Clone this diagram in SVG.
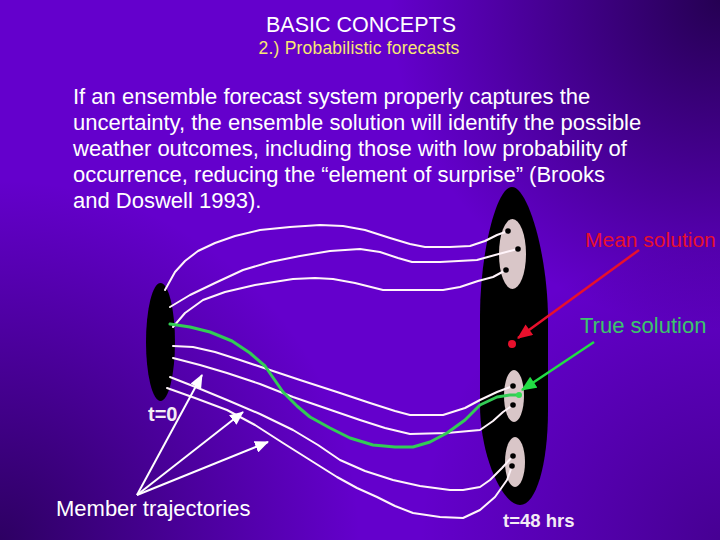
<svg xmlns="http://www.w3.org/2000/svg" width="720" height="540" viewBox="0 0 720 540">
  <defs>
    <radialGradient id="tr" cx="720" cy="0" r="330" gradientUnits="userSpaceOnUse">
      <stop offset="0" stop-color="#10002a" stop-opacity="0.75"/>
      <stop offset="1" stop-color="#10002a" stop-opacity="0"/>
    </radialGradient>
    <radialGradient id="bl" cx="0" cy="540" r="360" gradientUnits="userSpaceOnUse">
      <stop offset="0" stop-color="#10002a" stop-opacity="0.65"/>
      <stop offset="1" stop-color="#10002a" stop-opacity="0"/>
    </radialGradient>
    <radialGradient id="br" cx="720" cy="540" r="300" gradientUnits="userSpaceOnUse">
      <stop offset="0" stop-color="#10002a" stop-opacity="0.35"/>
      <stop offset="1" stop-color="#10002a" stop-opacity="0"/>
    </radialGradient>
    <marker id="aw" viewBox="0 0 14 12" refX="13" refY="6" markerWidth="14" markerHeight="12" markerUnits="userSpaceOnUse" orient="auto">
      <path d="M0,0 L14,6 L0,12 Z" fill="#ffffff"/>
    </marker>
    <marker id="ar" viewBox="0 0 14 12" refX="13" refY="6" markerWidth="16" markerHeight="13" markerUnits="userSpaceOnUse" orient="auto">
      <path d="M0,0 L14,6 L0,12 Z" fill="#e8102c"/>
    </marker>
    <marker id="ag" viewBox="0 0 14 12" refX="13" refY="6" markerWidth="16" markerHeight="13" markerUnits="userSpaceOnUse" orient="auto">
      <path d="M0,0 L14,6 L0,12 Z" fill="#22dd44"/>
    </marker>
  </defs>
  <style>
    text { font-family: "Liberation Sans", Arial, sans-serif; }
    .para { fill: #ffffff; font-size: 22px; }
    .traj { fill: none; stroke: #fff4fa; stroke-width: 2; stroke-linejoin: round; stroke-linecap: round; }
    .green { fill: none; stroke: #33cc55; stroke-width: 3; stroke-linejoin: round; stroke-linecap: round; }
    .dot { fill: #000000; }
    .cluster { fill: #d9c6c8; }
    .lbl { font-size: 22px; }
    .time { fill: #f4ecf4; font-weight: bold; }
  </style>

  <rect width="720" height="540" fill="#6400cc"/>
  <rect width="720" height="540" fill="url(#tr)"/>
  <rect width="720" height="540" fill="url(#bl)"/>
  <rect width="720" height="540" fill="url(#br)"/>

  <g id="title">
    <text x="361" y="32" text-anchor="middle" fill="#ffffff" font-size="21.5">BASIC CONCEPTS</text>
    <text x="359" y="54" text-anchor="middle" fill="#f8e872" font-size="17.5" letter-spacing="0.2">2.) Probabilistic forecasts</text>
  </g>

  <g id="paragraph" class="para">
    <text x="73" y="104">If an ensemble forecast system properly captures the</text>
    <text x="73" y="130">uncertainty, the ensemble solution will identify the possible</text>
    <text x="73" y="156">weather outcomes, including those with low probability of</text>
    <text x="73" y="182">occurrence, reducing the “element of surprise” (Brooks</text>
    <text x="73" y="208">and Doswell 1993).</text>
  </g>

  <g id="initial-state">
    <ellipse cx="160.5" cy="342" rx="14.5" ry="59" fill="#000000"/>
  </g>

  <g id="forecast-state">
    <path d="M512,187 C528,187 548,255 548,320 L548,410 C548,465 536,505 520,505 C502,505 480,455 480,405 L480,315 C480,255 496,187 512,187 Z" fill="#000000"/>
    <ellipse class="cluster" cx="512.5" cy="254" rx="13.5" ry="35"/>
    <ellipse class="cluster" cx="514" cy="396" rx="10" ry="26"/>
    <ellipse class="cluster" cx="515" cy="462" rx="10" ry="25"/>
  </g>

  <g id="connectors">
    <polyline class="traj" points="165,290 175,272 185,261 198,251 215,243 235,236 260,230 290,227 320,225 343,226 365,230 390,238 410,244 425,247 450,247 470,246 485,241 497,235 508,231"/>
    <polyline class="traj" points="170,307 190,295 215,283 243,270 270,262 300,256 330,251 360,249 380,252 398,258 412,262 440,262 477,260 495,255 510,251 518,249"/>
    <polyline class="traj" points="173,327 185,313 203,300 225,292 255,285 293,279 315,278 333,279 355,283 383,290 410,290 443,290 460,287 478,281 493,277 506,270"/>
    <polyline class="traj" points="173,346 193,347 215,352 240,360 270,370 300,380 337,392 370,403 395,411 410,415 443,415 465,408 480,400 497,392 513,386"/>
    <polyline class="traj" points="173,358 200,365 227,373 260,384 293,397 325,408 360,420 385,428 410,434 447,433 480,430 493,421 503,412 513,405"/>
    <polyline class="traj" points="170,377 198,388 227,400 260,414 293,430 318,445 340,460 365,471 393,480 420,486 450,490 463,490 480,487 490,480 502,468 513,456"/>
    <polyline class="traj" points="167,388 195,398 227,410 255,425 283,443 310,460 337,477 357,488 377,497 395,506 413,513 440,517 463,518 480,510 495,497 507,480 512,466"/>
    <polyline class="green" points="170,324 190,327 210,332 232,341 250,353 265,366 283,392 297,406 310,417 330,428 350,438 373,445 395,447 413,447 430,442 447,433 465,420 480,405 497,397 510,395 519,395"/>

    <line x1="639" y1="250" x2="518" y2="338" stroke="#e8102c" stroke-width="2.5" marker-end="url(#ar)"/>
    <line x1="594" y1="342" x2="522" y2="390" stroke="#22dd44" stroke-width="2.5" marker-end="url(#ag)"/>

    <line x1="137" y1="495" x2="202" y2="375" stroke="#ffffff" stroke-width="2" marker-end="url(#aw)"/>
    <line x1="137" y1="495" x2="243" y2="412" stroke="#ffffff" stroke-width="2" marker-end="url(#aw)"/>
    <line x1="137" y1="495" x2="268" y2="442" stroke="#ffffff" stroke-width="2" marker-end="url(#aw)"/>
  </g>

  <g id="member-dots">
    <circle class="dot" cx="508" cy="231" r="2.8"/>
    <circle class="dot" cx="518" cy="249" r="2.8"/>
    <circle class="dot" cx="506" cy="270" r="2.8"/>
    <circle class="dot" cx="513" cy="386" r="2.8"/>
    <circle class="dot" cx="513" cy="405" r="2.8"/>
    <circle class="dot" cx="513" cy="456" r="2.8"/>
    <circle class="dot" cx="512" cy="466" r="2.8"/>
    <circle cx="519" cy="395" r="3" fill="#33dd55"/>
  </g>

  <g id="mean-solution">
    <circle cx="512" cy="344" r="4" fill="#e8102c"/>
    <text x="585" y="247" fill="#e8102c" font-size="21">Mean solution</text>
  </g>

  <g id="true-solution">
    <text class="lbl" x="580" y="333" fill="#3cc46c">True solution</text>
  </g>

  <g id="member-label">
    <text class="lbl" x="56" y="516" fill="#ffffff">Member trajectories</text>
  </g>

  <g id="time-labels">
    <text class="time" x="148" y="421" font-size="20">t=0</text>
    <text class="time" x="503" y="527" font-size="18.5">t=48 hrs</text>
  </g>
</svg>
